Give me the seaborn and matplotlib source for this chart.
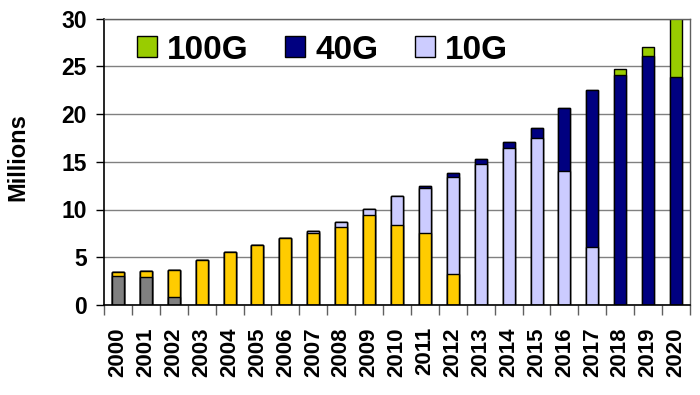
import matplotlib
matplotlib.use("Agg")
import matplotlib.pyplot as plt
import seaborn as sns
import numpy as np
import pandas as pd
from matplotlib.patches import Patch
from matplotlib.ticker import FixedLocator

years = [str(y) for y in range(2000, 2021)]
s_gray = [3.0, 2.9, 0.8, 0, 0, 0, 0, 0, 0, 0, 0, 0, 0, 0, 0, 0, 0, 0, 0, 0, 0]
s_yellow = [0.5, 0.7, 2.9, 4.7, 5.5, 6.3, 7.0, 7.5, 8.2, 9.4, 8.4, 7.5, 3.2, 0, 0, 0, 0, 0, 0, 0, 0]
s_10g = [0, 0, 0, 0, 0, 0, 0, 0.2, 0.45, 0.65, 3.05, 4.7, 10.25, 14.8, 16.4, 17.5, 14.0, 6.1, 0, 0, 0]
s_40g = [0, 0, 0, 0, 0, 0, 0, 0, 0, 0, 0, 0.3, 0.4, 0.45, 0.67, 1.05, 6.6, 16.4, 24.1, 26.05, 23.9]
s_100g = [0, 0, 0, 0, 0, 0, 0, 0, 0, 0, 0, 0, 0, 0, 0, 0, 0, 0, 0.6, 1.0, 6.5]

series = [("622M", s_gray, "#808080"), ("2.5G", s_yellow, "#FFCC00"),
          ("10G", s_10g, "#CCCCFF"), ("40G", s_40g, "#000080"),
          ("100G", s_100g, "#99CC00")]

sns.set_theme(style="white")
plt.rcParams['font.family'] = ['Liberation Sans', 'DejaVu Sans']
plt.rcParams.update({"text.color": "black", "axes.labelcolor": "black",
                     "xtick.color": "black", "ytick.color": "black"})

fig = plt.figure(figsize=(7, 3.95), dpi=100)
ax = fig.add_axes([104/700, 1 - 305/395, 586/700, 286.5/395])

cum = np.zeros(len(years))
cums = []
for name, vals, col in series:
    cum = cum + np.array(vals, dtype=float)
    cums.append((name, cum.copy(), col))

# draw from top-most cumulative to bottom
for name, c, col in reversed(cums):
    df = pd.DataFrame({"year": years, "val": c})
    sns.barplot(data=df, x="year", y="val", color=col, edgecolor="black",
                linewidth=1.0, width=0.43, saturation=1, ax=ax, order=years)

ax.set_xlim(-0.5, 20.5)
ax.set_ylim(0, 30)
ax.set_yticks(range(0, 31, 5))
ax.yaxis.grid(True, color="#808080", linewidth=1)
ax.set_axisbelow(True)
ax.set_xlabel("")
ax.set_ylabel("Millions", fontsize=17, fontweight="bold")
ax.yaxis.set_label_coords(-0.127, 0.518)

ax.set_xticks(range(len(years)))
ax.set_xticklabels(years, rotation=90, fontsize=16, fontweight="bold")
ax.tick_params(axis="x", which="major", length=0, pad=16)
ax.xaxis.set_minor_locator(FixedLocator(np.arange(-0.5, 21, 1)))
ax.tick_params(axis="x", which="minor", bottom=True, length=7, width=1, color="#606060")
ax.tick_params(axis="y", left=True, length=5.5, width=1, labelsize=16.5, pad=7, color="black")
for lab in ax.get_yticklabels():
    lab.set_fontweight("bold")

for side in ["left", "bottom"]:
    ax.spines[side].set_color("black")
    ax.spines[side].set_linewidth(1.2)
for side in ["top", "right"]:
    ax.spines[side].set_color("#606060")
    ax.spines[side].set_linewidth(1.0)
    ax.spines[side].set_visible(True)

handles = [Patch(facecolor="#99CC00", edgecolor="black", label="100G"),
           Patch(facecolor="#000080", edgecolor="black", label="40G"),
           Patch(facecolor="#CCCCFF", edgecolor="black", label="10G")]
ax.legend(handles=handles, loc="center left", bbox_to_anchor=(0.056, 0.89),
          ncol=3, frameon=False, prop={"size": 24, "weight": "bold"},
          handlelength=0.6, handleheight=0.6, handletextpad=0.3,
          columnspacing=1.1, borderpad=0, borderaxespad=0)

fig.savefig("out.png", dpi=100)
